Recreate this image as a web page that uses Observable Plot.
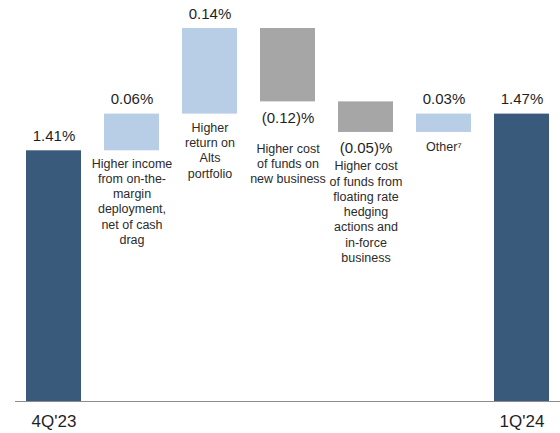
<!DOCTYPE html>
<html>
<head>
<meta charset="utf-8">
<script src="https://cdn.jsdelivr.net/npm/d3@7"></script>
<script src="https://cdn.jsdelivr.net/npm/@observablehq/plot@0.6"></script>
<style>
  html, body { margin: 0; padding: 0; background: #fff; }
  #chart svg { display: block; font-family: "Liberation Sans", Arial, sans-serif; }
</style>
</head>
<body>
<div id="chart"></div>
<script>
// ---- data ----
const steps = ["4Q'23", "income", "alts", "newbiz", "floating", "other", "1Q'24"];
const values = [1.41, 0.06, 0.14, -0.12, -0.05, 0.03, 1.47];
const kinds = ["total", "up", "up", "down", "down", "up", "total"];
const valueLabels = ["1.41%", "0.06%", "0.14%", "(0.12)%", "(0.05)%", "0.03%", "1.47%"];
const descriptions = [
  "",
  "Higher income\nfrom on-the-\nmargin\ndeployment,\nnet of cash\ndrag",
  "Higher\nreturn on\nAlts\nportfolio",
  "Higher cost\nof funds on\nnew business",
  "Higher cost\nof funds from\nfloating rate\nhedging\nactions and\nin-force\nbusiness",
  "Other\u2077",
  ""
];
const tickLabels = ["4Q'23", "", "", "", "", "", "1Q'24"];
const yMin = 1.0, yMax = 1.61;

// ---- build waterfall rows ----
let running = 0;
const rows = steps.map((s, i) => {
  let y1, y2;
  if (kinds[i] === "total") { y1 = 0; y2 = values[i]; running = values[i]; }
  else { y1 = running; y2 = running + values[i]; running = y2; }
  return {step: s, kind: kinds[i], y1, y2, top: Math.max(y1, y2), bottom: Math.max(Math.min(y1, y2), yMin),
          label: valueLabels[i], desc: descriptions[i], tick: tickLabels[i], i};
});

const colors = {total: "#3a5a7b", up: "#b8cde6", down: "#a6a6a6"};
// layout offsets (px) for description text below each bar
const descDy = [0, 6, 7, 40, 27, 8, 0];

const descMarks = rows.filter(d => d.desc).map(d =>
  Plot.text([d], {x: "step", y: "bottom", text: "desc", lineAnchor: "top", dy: descDy[d.i],
    fontSize: 12.5, lineHeight: 1.22, fill: "#2b2b2b"})
);

const chart = Plot.plot({
  width: 560,
  height: 433,
  marginLeft: 15,
  marginRight: 0,
  marginTop: 28,
  marginBottom: 32,
  x: {domain: steps, paddingInner: 0.294, paddingOuter: 0.14, axis: null},
  y: {domain: [yMin, yMax], clamp: true, axis: null},
  marks: [
    Plot.barY(rows, {x: "step", y1: "y1", y2: "y2", fill: d => colors[d.kind]}),
    Plot.ruleY([yMin], {stroke: "#8c8c8c", strokeWidth: 1}),
    Plot.text(rows.filter(d => d.kind !== "down"), {x: "step", y: "top", text: "label", lineAnchor: "bottom",
      dy: -10, fontSize: 15, fill: "#1f1f1f"}),
    Plot.text(rows.filter(d => d.kind === "down"), {x: "step", y: "bottom", text: "label", lineAnchor: "top",
      dy: 10, fontSize: 15, fill: "#1f1f1f"}),
    ...descMarks,
    Plot.axisX({domain: steps, tickSize: 0, tickPadding: 13, fontSize: 17, fill: "#1f1f1f",
      tickFormat: s => tickLabels[steps.indexOf(s)], label: null})
  ]
});
chart.style.fill = "currentColor";
document.getElementById("chart").append(chart);
</script>
</body>
</html>
